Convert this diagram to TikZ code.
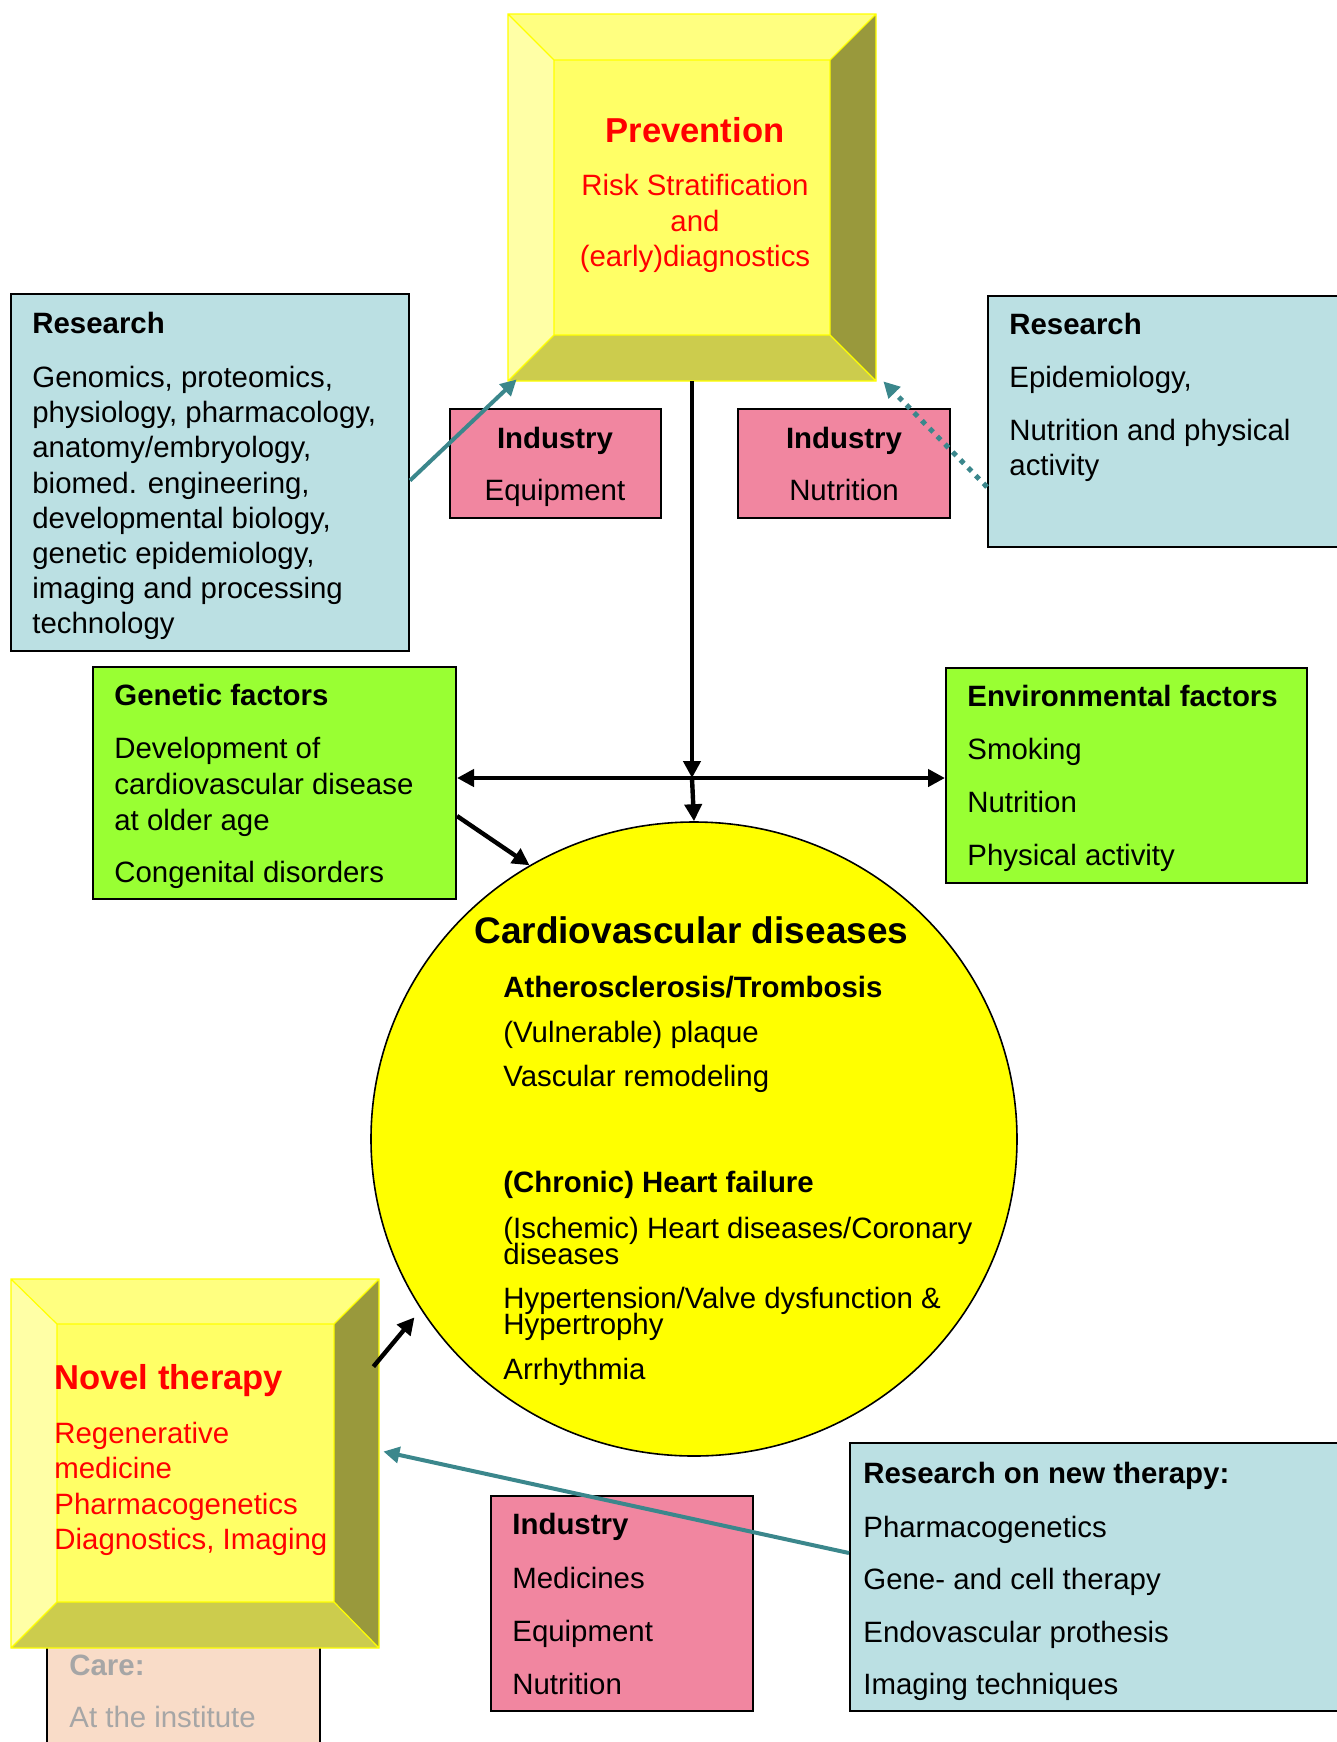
\documentclass[tikz,border=0pt]{standalone}
\usepackage{fontspec}
\setmainfont{Liberation Sans}
\usetikzlibrary{arrows.meta}
\usetikzlibrary{fit}
\usetikzlibrary{shapes.geometric}

\definecolor{resblue}{RGB}{187,224,227}
\definecolor{indpink}{RGB}{241,134,160}
\definecolor{facgreen}{RGB}{153,255,51}
\definecolor{linkteal}{RGB}{59,135,140}
\definecolor{carefill}{RGB}{249,220,200}
\definecolor{caregray}{RGB}{166,166,166}
\definecolor{bevtop}{RGB}{255,255,128}
\definecolor{bevleft}{RGB}{255,255,166}
\definecolor{bevright}{RGB}{153,153,60}
\definecolor{bevbot}{RGB}{204,204,77}
\definecolor{bevmid}{RGB}{255,255,102}
\definecolor{bevline}{RGB}{255,255,0}
\definecolor{cvdyellow}{RGB}{255,255,0}
\definecolor{headred}{RGB}{255,0,0}

\begin{document}
\begin{tikzpicture}[x=0.5pt,y=0.5pt,yscale=-1,xscale=1,
  box/.style={draw=black,line width=1pt,inner sep=0pt},
  txt/.style={anchor=base west,inner sep=0pt,font=\fontsize{14.7}{17.6}\selectfont},
  txtb/.style={txt,font=\fontsize{14.7}{17.6}\selectfont\bfseries},
  txtc/.style={txt,anchor=base},
  head/.style={anchor=base west,inner sep=0pt,font=\fontsize{17.3}{20}\selectfont\bfseries},
  blackarrow/.style={line width=2.2pt,-{Triangle[length=8.5pt,width=8.5pt]}},
  tealarrow/.style={line width=2pt,color=linkteal,-{Triangle[length=8pt,width=8pt]}},
  bevedge/.style={draw=bevline,line width=0.6pt}]
\path[use as bounding box] (0,0) rectangle (1337,1742);
\clip (0,0) rectangle (1337,1742);

%Shape: Bevel [id:prevention]
\fill[bevtop] (508,14) -- (876,14) -- (830,60) -- (554,60) -- cycle;
\fill[bevleft] (508,14) -- (554,60) -- (554,335) -- (508,381) -- cycle;
\fill[bevright] (876,14) -- (876,381) -- (830,335) -- (830,60) -- cycle;
\fill[bevbot] (508,381) -- (876,381) -- (830,335) -- (554,335) -- cycle;
\fill[bevmid] (554,60) rectangle (830,335);
\path[bevedge] (508,14) rectangle (876,381) (554,60) rectangle (830,335)
  (508,14) -- (554,60) (876,14) -- (830,60) (508,381) -- (554,335) (876,381) -- (830,335);
\node[fit={(508,14) (876,381)},inner sep=0pt] (prev) {};

% Text Node
\node[head,anchor=base,color=headred] (prevhead) at (695,142) {Prevention};
\node[txtc,color=headred] (prevl1) at (695,195) {Risk Stratification};
\node[txtc,color=headred] (prevl2) at (695,231) {and};
\node[txtc,color=headred] (prevl3) at (695,266) {(early)diagnostics};

%Shape: Rectangle [id:research left]
\node[box,fill=resblue,fit={(11,294) (409,651)}] (resL) {};
\node[txtb] (resLhead) at (32,333) {Research};
\node[txt] (resL1) at (32,387) {Genomics, proteomics,};
\node[txt] (resL2) at (32,422) {physiology, pharmacology,};
\node[txt] (resL3) at (32,457) {anatomy/embryology,};
\node[txt] (resL4) at (32,493) {biomed. engineering,};
\node[txt] (resL5) at (32,528) {developmental biology,};
\node[txt] (resL6) at (32,563) {genetic epidemiology,};
\node[txt] (resL7) at (32,598) {imaging and processing};
\node[txt] (resL8) at (32,633) {technology};

%Shape: Rectangle [id:research right]
\node[box,fill=resblue,fit={(988,296) (1345,547)}] (resR) {};
\node[txtb] (resRhead) at (1009,334) {Research};
\node[txt] (resR1) at (1009,387) {Epidemiology,};
\node[txt] (resR2) at (1009,440) {Nutrition and physical};
\node[txt] (resR3) at (1009,475) {activity};

%Shape: Rectangle [id:industry equipment]
\node[box,fill=indpink,fit={(450,409) (661,518)}] (indE) {};
\node[txtb,anchor=base] (indEhead) at (555,448) {Industry};
\node[txtc] (indE1) at (555,500) {Equipment};

%Shape: Rectangle [id:industry nutrition]
\node[box,fill=indpink,fit={(738,409) (950,518)}] (indN) {};
\node[txtb,anchor=base] (indNhead) at (844,448) {Industry};
\node[txtc] (indN1) at (844,500) {Nutrition};

%Shape: Rectangle [id:genetic factors]
\node[box,fill=facgreen,fit={(93,667) (456,899)}] (gen) {};
\node[txtb] (genhead) at (114,705) {Genetic factors};
\node[txt] (gen1) at (114,758) {Development of};
\node[txt] (gen2) at (114,794) {cardiovascular disease};
\node[txt] (gen3) at (114,830) {at older age};
\node[txt] (gen4) at (114,882) {Congenital disorders};

%Shape: Rectangle [id:environmental factors]
\node[box,fill=facgreen,fit={(946,668) (1307,883)}] (env) {};
\node[txtb] (envhead) at (967,706) {Environmental factors};
\node[txt] (env1) at (967,759) {Smoking};
\node[txt] (env2) at (967,812) {Nutrition};
\node[txt] (env3) at (967,865) {Physical activity};

%Shape: Ellipse [id:cardiovascular diseases]
\node[ellipse,draw=black,line width=0.8pt,fill=cvdyellow,inner sep=0pt,
  minimum width=323pt,minimum height=317pt] (cvd) at (694,1139) {};
\node[txt,font=\fontsize{18.5}{22}\selectfont\bfseries] (cvdhead) at (474,943) {Cardiovascular diseases};
\node[txtb] (cvd1) at (503,997) {Atherosclerosis/Trombosis};
\node[txt] (cvd2) at (503,1042) {(Vulnerable) plaque};
\node[txt] (cvd3) at (503,1086) {Vascular remodeling};
\node[txtb] (cvd4) at (503,1192) {(Chronic) Heart failure};
\node[txt] (cvd5) at (503,1238) {(Ischemic) Heart diseases/Coronary};
\node[txt] (cvd6) at (503,1264) {diseases};
\node[txt] (cvd7) at (503,1308) {Hypertension/Valve dysfunction \&};
\node[txt] (cvd8) at (503,1334) {Hypertrophy};
\node[txt] (cvd9) at (503,1379) {Arrhythmia};

%Shape: Rectangle [id:care]
\node[box,fill=carefill,fit={(47,1600) (320,1760)}] (care) {};
\node[txtb,color=caregray] (carehead) at (69,1675) {Care:};
\node[txt,color=caregray] (care1) at (69,1727) {At the institute};

%Shape: Bevel [id:novel therapy]
\fill[bevtop] (11,1279) -- (379,1279) -- (334,1324) -- (57,1324) -- cycle;
\fill[bevleft] (11,1279) -- (57,1324) -- (57,1602) -- (11,1648) -- cycle;
\fill[bevright] (379,1279) -- (379,1648) -- (334,1602) -- (334,1324) -- cycle;
\fill[bevbot] (11,1648) -- (379,1648) -- (334,1602) -- (57,1602) -- cycle;
\fill[bevmid] (57,1324) rectangle (334,1602);
\path[bevedge] (11,1279) rectangle (379,1648) (57,1324) rectangle (334,1602)
  (11,1279) -- (57,1324) (379,1279) -- (334,1324) (11,1648) -- (57,1602) (379,1648) -- (334,1602);
\node[fit={(11,1279) (379,1648)},inner sep=0pt] (nov) {};

% Text Node
\node[head,color=headred] (novhead) at (54,1389) {Novel therapy};
\node[txt,color=headred] (nov1) at (54,1443) {Regenerative};
\node[txt,color=headred] (nov2) at (54,1478) {medicine};
\node[txt,color=headred] (nov3) at (54,1514) {Pharmacogenetics};
\node[txt,color=headred] (nov4) at (54,1549) {Diagnostics, Imaging};

%Shape: Rectangle [id:industry bottom]
\node[box,fill=indpink,fit={(491,1496) (753,1711)}] (indB) {};
\node[txtb] (indBhead) at (512,1534) {Industry};
\node[txt] (indB1) at (512,1588) {Medicines};
\node[txt] (indB2) at (512,1641) {Equipment};
\node[txt] (indB3) at (512,1694) {Nutrition};

%Shape: Rectangle [id:research on new therapy]
\node[box,fill=resblue,fit={(850,1443) (1345,1711)}] (rnt) {};
\node[txtb] (rnthead) at (863,1483) {Research on new therapy:};
\node[txt] (rnt1) at (863,1537) {Pharmacogenetics};
\node[txt] (rnt2) at (863,1589) {Gene- and cell therapy};
\node[txt] (rnt3) at (863,1642) {Endovascular prothesis};
\node[txt] (rnt4) at (863,1694) {Imaging techniques};

% Connectors (shifts are flipped by yscale=-1: positive yshift goes down)
\coordinate (hub) at (692,778);
\draw[blackarrow] (prev.south) -- (hub);
\draw[blackarrow] (hub) -- (cvd.north);
\draw[line width=2.2pt,{Triangle[length=8.5pt,width=8.5pt]}-{Triangle[length=8.5pt,width=8.5pt]}] (gen.east |- hub) -- (env.west |- hub);
\draw[blackarrow] ([yshift=16.5pt]gen.east) -- (cvd.121);
\draw[blackarrow,shorten >=5pt] ([xshift=-3pt,yshift=44pt]nov.north east) -- (cvd.212);
\draw[tealarrow] ([yshift=4pt]resL.east) -- ([xshift=4.5pt,yshift=-1pt]prev.south west);
\draw[tealarrow,line width=2.5pt,dash pattern={on 2.5pt off 3pt}] ([yshift=32.75pt]resR.west) -- ([xshift=3.5pt]prev.south east);
\draw[tealarrow] ([yshift=-12pt]rnt.west) -- ([xshift=2pt,yshift=-6pt]nov.east);

\end{tikzpicture}
\end{document}
